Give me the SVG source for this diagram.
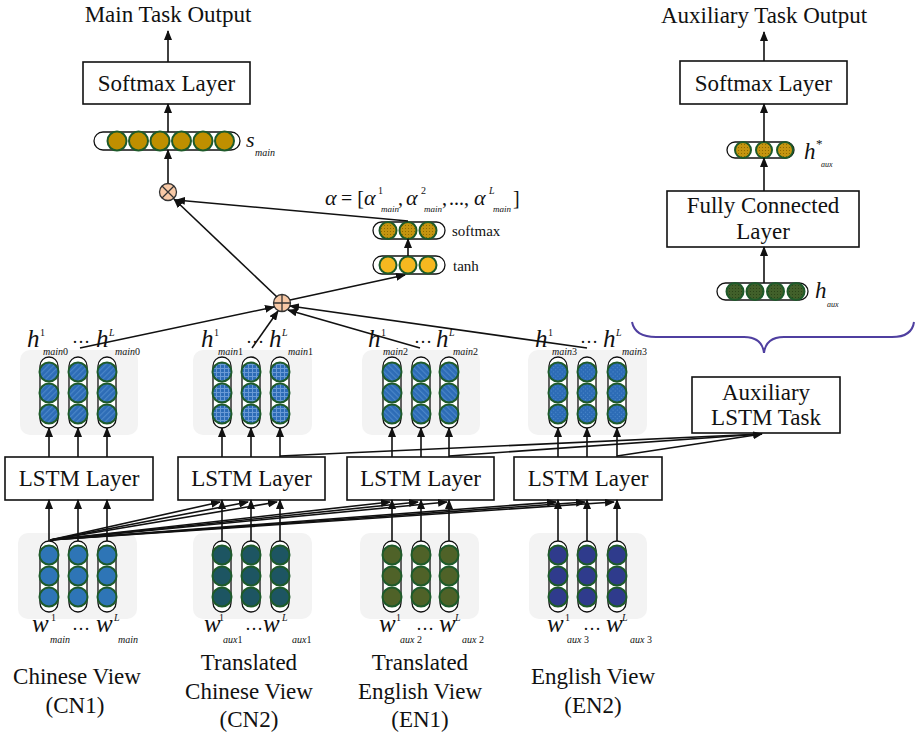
<svg xmlns="http://www.w3.org/2000/svg" width="917" height="733" viewBox="0 0 917 733">
<defs>
<style>
text{font-family:"Liberation Serif","Times New Roman",serif;fill:#111}
.t23{font-size:23px}
.mid{text-anchor:middle}
.big{font-size:25px;font-style:italic}
.sup{font-size:10px}
.supi{font-size:10px;font-style:italic}
.sub{font-size:10px;font-style:italic}
.asub{font-size:9px;font-style:italic}
.pun{font-size:20px}
.lab{font-size:15px}
.box{fill:#fff;stroke:#111;stroke-width:1.6}
.panel{fill:#f3f3f3;stroke:none}
.cap{fill:#fff;stroke:#111;stroke-width:1.3}
.ln{stroke:#111;stroke-width:1.6;fill:none}
.arr{stroke:#111;stroke-width:1.6;fill:none;marker-end:url(#ah)}
.c{stroke:#1e5a2a;stroke-width:2}
</style>
<marker id="ah" viewBox="0 0 10 8" refX="9" refY="4" markerWidth="10" markerHeight="8" markerUnits="userSpaceOnUse" orient="auto"><path d="M0,0 L10,4 L0,8 z" fill="#111"/></marker>
<pattern id="pDiag" width="4" height="4" patternUnits="userSpaceOnUse" patternTransform="rotate(45)"><rect width="4" height="4" fill="#2d6cb6"/><rect width="1.2" height="4" fill="#4a86c8"/></pattern>
<pattern id="pGrid" width="4" height="4" patternUnits="userSpaceOnUse"><rect width="4" height="4" fill="#2d6cb6"/><rect width="1" height="4" fill="#6a9ad6"/><rect width="4" height="1" fill="#6a9ad6"/></pattern>
<pattern id="pDiag2" width="4" height="4" patternUnits="userSpaceOnUse" patternTransform="rotate(-45)"><rect width="4" height="4" fill="#2d6cb6"/><rect width="1.2" height="4" fill="#4a86c8"/></pattern>
<pattern id="pCross" width="3" height="3" patternUnits="userSpaceOnUse" patternTransform="rotate(45)"><rect width="3" height="3" fill="#2d6cb6"/><rect width="1" height="1" fill="#4f8bcc"/></pattern>
<pattern id="pGold" width="3" height="3" patternUnits="userSpaceOnUse"><rect width="3" height="3" fill="#c49510"/><rect width="1" height="1" fill="#8f6a00"/></pattern>
<pattern id="pGreen" width="3" height="3" patternUnits="userSpaceOnUse"><rect width="3" height="3" fill="#41602a"/><rect width="1" height="1" fill="#2a4418"/></pattern>
</defs>

<g id="main-output">
<text class="t23 mid" x="168" y="22">Main Task Output</text>
</g>
<g id="main-softmax">
<rect class="box" x="83" y="62" width="167" height="42"/>
<text class="t23 mid" x="166.5" y="91">Softmax Layer</text>
</g>
<g id="s-main">
<rect class="cap" x="94" y="132" width="146" height="18" rx="9"/>
<circle class="c" cx="117" cy="141" r="9.5" fill="#bf8f00"/>
<circle class="c" cx="138.5" cy="141" r="9.5" fill="#bf8f00"/>
<circle class="c" cx="160" cy="141" r="9.5" fill="#bf8f00"/>
<circle class="c" cx="181.5" cy="141" r="9.5" fill="#bf8f00"/>
<circle class="c" cx="203" cy="141" r="9.5" fill="#bf8f00"/>
<circle class="c" cx="224.5" cy="141" r="9.5" fill="#bf8f00"/>
<text class="big" x="246" y="147" style="font-size:22px">s</text>
<text class="sub" x="255" y="156">main</text>
</g>
<g id="mult">
<circle cx="168" cy="192" r="8.5" fill="#f8c9a6" stroke="#333" stroke-width="1.3"/>
<path d="M162,186 L174,198 M174,186 L162,198" stroke="#333" stroke-width="1.3"/>
</g>
<g id="alpha">
<text class="big" x="325" y="205" style="font-size:22px">α</text>
<text class="pun" x="341" y="205">= [</text>
<text class="big" x="364" y="205" style="font-size:22px">α</text>
<text class="sup" x="378" y="194">1</text>
<text class="asub" x="381" y="212">main</text>
<text class="pun" x="398" y="205">,</text>
<text class="big" x="406" y="205" style="font-size:22px">α</text>
<text class="sup" x="421" y="194">2</text>
<text class="asub" x="424" y="212">main</text>
<text class="pun" x="442" y="205">,</text>
<text class="pun" x="449" y="205">...,</text>
<text class="big" x="474" y="205" style="font-size:22px">α</text>
<text class="supi" x="489" y="194">L</text>
<text class="asub" x="493" y="212">main</text>
<text class="pun" x="513" y="205">]</text>
</g>
<g id="softmax-att">
<rect class="cap" x="373" y="222" width="72" height="17" rx="8.5"/>
<circle class="c" cx="388" cy="230.5" r="8.5" fill="url(#pGold)"/>
<circle class="c" cx="408" cy="230.5" r="8.5" fill="url(#pGold)"/>
<circle class="c" cx="428" cy="230.5" r="8.5" fill="url(#pGold)"/>
<text class="lab" x="452" y="236">softmax</text>
</g>
<g id="tanh">
<rect class="cap" x="373" y="256" width="72" height="18" rx="9"/>
<circle class="c" cx="388" cy="265" r="8.5" fill="#f5b820"/>
<circle class="c" cx="408" cy="265" r="8.5" fill="#f5b820"/>
<circle class="c" cx="428" cy="265" r="8.5" fill="#f5b820"/>
<text class="lab" x="453" y="271">tanh</text>
</g>
<g id="add">
<circle cx="282" cy="303" r="8.5" fill="#f8c9a6" stroke="#333" stroke-width="1.3"/>
<path d="M273.5,303 L290.5,303 M282,294.5 L282,311.5" stroke="#333" stroke-width="1.3"/>
</g>

<g id="aux-output">
<text class="t23 mid" x="764" y="23">Auxiliary Task Output</text>
</g>
<g id="aux-softmax">
<rect class="box" x="680" y="61" width="167" height="43"/>
<text class="t23 mid" x="763.5" y="91">Softmax Layer</text>
</g>
<g id="h-star">
<rect class="cap" x="727" y="142" width="67" height="16" rx="8"/>
<circle class="c" cx="743" cy="150" r="8" fill="url(#pGold)"/>
<circle class="c" cx="764" cy="150" r="8" fill="url(#pGold)"/>
<circle class="c" cx="785" cy="150" r="8" fill="url(#pGold)"/>
<text class="big" x="804" y="159" style="font-size:23px">h</text>
<text class="sup" x="816" y="148" style="font-size:13px">*</text>
<text class="sub" x="821" y="167" style="font-size:8px">aux</text>
</g>
<g id="fc">
<rect class="box" x="667" y="191" width="192" height="56"/>
<text class="t23 mid" x="763" y="213">Fully Connected</text>
<text class="t23 mid" x="763" y="239">Layer</text>
</g>
<g id="h-aux">
<rect class="cap" x="717" y="283" width="91" height="17" rx="8.5"/>
<circle class="c" cx="735" cy="291.5" r="8.5" fill="url(#pGreen)"/>
<circle class="c" cx="755" cy="291.5" r="8.5" fill="url(#pGreen)"/>
<circle class="c" cx="775.5" cy="291.5" r="8.5" fill="url(#pGreen)"/>
<circle class="c" cx="796" cy="291.5" r="8.5" fill="url(#pGreen)"/>
<text class="big" x="815" y="298" style="font-size:23px">h</text>
<text class="sub" x="827" y="307" style="font-size:8px">aux</text>
</g>
<g id="brace">
<path d="M632,322 Q635,337 656,337 L744,337 Q762,337 764,353 Q766,337 784,337 L892,337 Q912,337 914,322" fill="none" stroke="#4f3fa0" stroke-width="2"/>
</g>

<g id="hidden-cn1">
<rect class="panel" x="20" y="350" width="118" height="85" rx="10"/>
<rect class="cap" x="40" y="357" width="18" height="71" rx="9"/><rect class="cap" x="69" y="357" width="18" height="71" rx="9"/><rect class="cap" x="98" y="357" width="18" height="71" rx="9"/>
<g fill="url(#pDiag)" class="c"><circle cx="49" cy="372" r="9.5"/><circle cx="49" cy="393" r="9.5"/><circle cx="49" cy="414" r="9.5"/><circle cx="78" cy="372" r="9.5"/><circle cx="78" cy="393" r="9.5"/><circle cx="78" cy="414" r="9.5"/><circle cx="107" cy="372" r="9.5"/><circle cx="107" cy="393" r="9.5"/><circle cx="107" cy="414" r="9.5"/></g>
<text class="big" x="27" y="347">h</text><text class="sup" x="40" y="336">1</text><text class="sub" x="43" y="355">main<tspan font-style="normal">0</tspan></text>
<text x="72" y="343" style="font-size:18px">…</text>
<text class="big" x="96" y="347">h</text><text class="supi" x="109" y="336">L</text><text class="sub" x="115" y="355">main<tspan font-style="normal">0</tspan></text>
</g>
<g id="hidden-cn2">
<rect class="panel" x="193" y="350" width="119" height="85" rx="10"/>
<rect class="cap" x="213" y="357" width="18" height="71" rx="9"/><rect class="cap" x="242" y="357" width="18" height="71" rx="9"/><rect class="cap" x="271" y="357" width="18" height="71" rx="9"/>
<g fill="url(#pGrid)" class="c"><circle cx="222" cy="372" r="9.5"/><circle cx="222" cy="393" r="9.5"/><circle cx="222" cy="414" r="9.5"/><circle cx="251" cy="372" r="9.5"/><circle cx="251" cy="393" r="9.5"/><circle cx="251" cy="414" r="9.5"/><circle cx="280" cy="372" r="9.5"/><circle cx="280" cy="393" r="9.5"/><circle cx="280" cy="414" r="9.5"/></g>
<text class="big" x="201" y="347">h</text><text class="sup" x="214" y="336">1</text><text class="sub" x="218" y="355">main<tspan font-style="normal">1</tspan></text>
<text x="246" y="343" style="font-size:18px">…</text>
<text class="big" x="269" y="347">h</text><text class="supi" x="282" y="336">L</text><text class="sub" x="288" y="355">main<tspan font-style="normal">1</tspan></text>
</g>
<g id="hidden-en1">
<rect class="panel" x="362" y="350" width="118" height="85" rx="10"/>
<rect class="cap" x="383" y="357" width="18" height="71" rx="9"/><rect class="cap" x="412" y="357" width="18" height="71" rx="9"/><rect class="cap" x="440" y="357" width="18" height="71" rx="9"/>
<g fill="url(#pDiag2)" class="c"><circle cx="392" cy="372" r="9.5"/><circle cx="392" cy="393" r="9.5"/><circle cx="392" cy="414" r="9.5"/><circle cx="421" cy="372" r="9.5"/><circle cx="421" cy="393" r="9.5"/><circle cx="421" cy="414" r="9.5"/><circle cx="449" cy="372" r="9.5"/><circle cx="449" cy="393" r="9.5"/><circle cx="449" cy="414" r="9.5"/></g>
<text class="big" x="368" y="347">h</text><text class="sup" x="381" y="336">1</text><text class="sub" x="383" y="355">main<tspan font-style="normal">2</tspan></text>
<text x="414" y="343" style="font-size:18px">…</text>
<text class="big" x="436" y="347">h</text><text class="supi" x="449" y="336">L</text><text class="sub" x="453" y="355">main<tspan font-style="normal">2</tspan></text>
</g>
<g id="hidden-en2">
<rect class="panel" x="528" y="350" width="119" height="85" rx="10"/>
<rect class="cap" x="549" y="357" width="18" height="71" rx="9"/><rect class="cap" x="578" y="357" width="18" height="71" rx="9"/><rect class="cap" x="608" y="357" width="18" height="71" rx="9"/>
<g fill="url(#pCross)" class="c"><circle cx="558" cy="372" r="9.5"/><circle cx="558" cy="393" r="9.5"/><circle cx="558" cy="414" r="9.5"/><circle cx="587" cy="372" r="9.5"/><circle cx="587" cy="393" r="9.5"/><circle cx="587" cy="414" r="9.5"/><circle cx="617" cy="372" r="9.5"/><circle cx="617" cy="393" r="9.5"/><circle cx="617" cy="414" r="9.5"/></g>
<text class="big" x="535" y="347">h</text><text class="sup" x="548" y="336">1</text><text class="sub" x="552" y="355">main<tspan font-style="normal">3</tspan></text>
<text x="580" y="343" style="font-size:18px">…</text>
<text class="big" x="603" y="347">h</text><text class="supi" x="616" y="336">L</text><text class="sub" x="622" y="355">main<tspan font-style="normal">3</tspan></text>
</g>

<g id="aux-lstm">
<rect class="box" x="692" y="377" width="148" height="56"/>
<text class="t23 mid" x="766" y="400">Auxiliary</text>
<text class="t23 mid" x="766" y="425">LSTM Task</text>
</g>

<g id="lstm1"><rect class="box" x="5" y="457" width="148" height="43"/><text class="t23 mid" x="79" y="486">LSTM Layer</text></g>
<g id="lstm2"><rect class="box" x="178" y="457" width="147" height="43"/><text class="t23 mid" x="251.5" y="486">LSTM Layer</text></g>
<g id="lstm3"><rect class="box" x="347" y="457" width="147" height="43"/><text class="t23 mid" x="420.5" y="486">LSTM Layer</text></g>
<g id="lstm4"><rect class="box" x="514" y="457" width="148" height="43"/><text class="t23 mid" x="588" y="486">LSTM Layer</text></g>

<g id="words-cn1">
<rect class="panel" x="18" y="533" width="119" height="86" rx="10"/>
<rect class="cap" x="40" y="541" width="18" height="71" rx="9"/><rect class="cap" x="69" y="541" width="18" height="71" rx="9"/><rect class="cap" x="98" y="541" width="18" height="71" rx="9"/>
<g fill="#2e75b6" class="c"><circle cx="49" cy="555" r="9.5"/><circle cx="49" cy="576" r="9.5"/><circle cx="49" cy="597" r="9.5"/><circle cx="78" cy="555" r="9.5"/><circle cx="78" cy="576" r="9.5"/><circle cx="78" cy="597" r="9.5"/><circle cx="107" cy="555" r="9.5"/><circle cx="107" cy="576" r="9.5"/><circle cx="107" cy="597" r="9.5"/></g>
<text class="big" x="32" y="632">w</text><text class="sup" x="51" y="621">1</text><text class="sub" x="50" y="643">main</text>
<text x="72" y="630" style="font-size:18px">…</text>
<text class="big" x="96" y="632">w</text><text class="supi" x="114" y="621">L</text><text class="sub" x="118" y="643">main</text>
</g>
<g id="words-cn2">
<rect class="panel" x="193" y="533" width="119" height="86" rx="10"/>
<rect class="cap" x="213" y="541" width="18" height="71" rx="9"/><rect class="cap" x="242" y="541" width="18" height="71" rx="9"/><rect class="cap" x="271" y="541" width="18" height="71" rx="9"/>
<g fill="#1d5562" class="c"><circle cx="222" cy="555" r="9.5"/><circle cx="222" cy="576" r="9.5"/><circle cx="222" cy="597" r="9.5"/><circle cx="251" cy="555" r="9.5"/><circle cx="251" cy="576" r="9.5"/><circle cx="251" cy="597" r="9.5"/><circle cx="280" cy="555" r="9.5"/><circle cx="280" cy="576" r="9.5"/><circle cx="280" cy="597" r="9.5"/></g>
<text class="big" x="204" y="632">w</text><text class="sup" x="219" y="621">1</text><text class="sub" x="223" y="643">aux<tspan font-style="normal">1</tspan></text>
<text x="245" y="630" style="font-size:18px">…</text>
<text class="big" x="263" y="632">w</text><text class="supi" x="282" y="621">L</text><text class="sub" x="292" y="643">aux<tspan font-style="normal">1</tspan></text>
</g>
<g id="words-en1">
<rect class="panel" x="360" y="533" width="119" height="86" rx="10"/>
<rect class="cap" x="383" y="541" width="18" height="71" rx="9"/><rect class="cap" x="412" y="541" width="18" height="71" rx="9"/><rect class="cap" x="440" y="541" width="18" height="71" rx="9"/>
<g fill="#4f6228" class="c"><circle cx="392" cy="555" r="9.5"/><circle cx="392" cy="576" r="9.5"/><circle cx="392" cy="597" r="9.5"/><circle cx="421" cy="555" r="9.5"/><circle cx="421" cy="576" r="9.5"/><circle cx="421" cy="597" r="9.5"/><circle cx="449" cy="555" r="9.5"/><circle cx="449" cy="576" r="9.5"/><circle cx="449" cy="597" r="9.5"/></g>
<text class="big" x="379" y="632">w</text><text class="sup" x="396" y="621">1</text><text class="sub" x="400" y="643">aux <tspan font-style="normal">2</tspan></text>
<text x="416" y="630" style="font-size:18px">…</text>
<text class="big" x="439" y="632">w</text><text class="supi" x="455" y="621">L</text><text class="sub" x="462" y="643">aux <tspan font-style="normal">2</tspan></text>
</g>
<g id="words-en2">
<rect class="panel" x="529" y="533" width="118" height="86" rx="10"/>
<rect class="cap" x="549" y="541" width="18" height="71" rx="9"/><rect class="cap" x="578" y="541" width="18" height="71" rx="9"/><rect class="cap" x="608" y="541" width="18" height="71" rx="9"/>
<g fill="#2f3b8c" class="c"><circle cx="558" cy="555" r="9.5"/><circle cx="558" cy="576" r="9.5"/><circle cx="558" cy="597" r="9.5"/><circle cx="587" cy="555" r="9.5"/><circle cx="587" cy="576" r="9.5"/><circle cx="587" cy="597" r="9.5"/><circle cx="617" cy="555" r="9.5"/><circle cx="617" cy="576" r="9.5"/><circle cx="617" cy="597" r="9.5"/></g>
<text class="big" x="547" y="632">w</text><text class="sup" x="565" y="621">1</text><text class="sub" x="567" y="643">aux <tspan font-style="normal">3</tspan></text>
<text x="583" y="630" style="font-size:18px">…</text>
<text class="big" x="606" y="632">w</text><text class="supi" x="622" y="621">L</text><text class="sub" x="630" y="643">aux <tspan font-style="normal">3</tspan></text>
</g>

<g id="view-labels">
<text class="t23 mid" x="77" y="684">Chinese View</text>
<text class="t23 mid" x="75" y="713">(CN1)</text>
<text class="t23 mid" x="249" y="670">Translated</text>
<text class="t23 mid" x="249" y="699">Chinese View</text>
<text class="t23 mid" x="249" y="727">(CN2)</text>
<text class="t23 mid" x="420" y="670">Translated</text>
<text class="t23 mid" x="420" y="699">English View</text>
<text class="t23 mid" x="420" y="727">(EN1)</text>
<text class="t23 mid" x="593" y="684">English View</text>
<text class="t23 mid" x="593" y="713">(EN2)</text>
</g>

<g id="connectors">
<line class="arr" x1="168" y1="62" x2="168" y2="31"/>
<line class="arr" x1="168" y1="132" x2="168" y2="104"/>
<line class="arr" x1="168" y1="183" x2="168" y2="150"/>
<line class="arr" x1="408" y1="221" x2="176" y2="200"/>
<line class="arr" x1="277" y1="297" x2="174" y2="199"/>
<line class="arr" x1="408" y1="256" x2="408" y2="239"/>
<line class="arr" x1="290" y1="300" x2="405" y2="275"/>
<line class="arr" x1="80" y1="348" x2="274" y2="307"/>
<line class="arr" x1="252" y1="348" x2="278" y2="311"/>
<line class="arr" x1="420" y1="348" x2="288" y2="310"/>
<line class="arr" x1="587" y1="348" x2="290" y2="306"/>
<line class="arr" x1="764" y1="61" x2="764" y2="32"/>
<line class="arr" x1="764" y1="142" x2="764" y2="104"/>
<line class="arr" x1="764" y1="191" x2="764" y2="158"/>
<line class="arr" x1="764" y1="283" x2="764" y2="247"/>
<line class="arr" x1="49" y1="457" x2="49" y2="428"/><line class="arr" x1="78" y1="457" x2="78" y2="428"/><line class="arr" x1="107" y1="457" x2="107" y2="428"/>
<line class="arr" x1="222" y1="457" x2="222" y2="428"/><line class="arr" x1="251" y1="457" x2="251" y2="428"/><line class="arr" x1="280" y1="457" x2="280" y2="428"/>
<line class="arr" x1="392" y1="457" x2="392" y2="428"/><line class="arr" x1="421" y1="457" x2="421" y2="428"/><line class="arr" x1="449" y1="457" x2="449" y2="428"/>
<line class="arr" x1="558" y1="457" x2="558" y2="428"/><line class="arr" x1="587" y1="457" x2="587" y2="428"/><line class="arr" x1="617" y1="457" x2="617" y2="428"/>
<line class="arr" x1="49" y1="541" x2="49" y2="500"/><line class="arr" x1="78" y1="541" x2="78" y2="500"/><line class="arr" x1="107" y1="541" x2="107" y2="500"/>
<line class="arr" x1="222" y1="541" x2="222" y2="500"/><line class="arr" x1="251" y1="541" x2="251" y2="500"/><line class="arr" x1="280" y1="541" x2="280" y2="500"/>
<line class="arr" x1="392" y1="541" x2="392" y2="500"/><line class="arr" x1="421" y1="541" x2="421" y2="500"/><line class="arr" x1="449" y1="541" x2="449" y2="500"/>
<line class="arr" x1="558" y1="541" x2="558" y2="500"/><line class="arr" x1="587" y1="541" x2="587" y2="500"/><line class="arr" x1="617" y1="541" x2="617" y2="500"/>
<line class="arr" x1="50" y1="540" x2="220" y2="502"/>
<line class="arr" x1="50" y1="540" x2="248" y2="502"/>
<line class="arr" x1="50" y1="540" x2="277" y2="502"/>
<line class="arr" x1="50" y1="540" x2="390" y2="502"/>
<line class="arr" x1="50" y1="540" x2="418" y2="502"/>
<line class="arr" x1="50" y1="540" x2="447" y2="502"/>
<line class="arr" x1="50" y1="540" x2="556" y2="502"/>
<line class="arr" x1="50" y1="540" x2="585" y2="502"/>
<line class="arr" x1="50" y1="540" x2="614" y2="502"/>
<line class="ln" x1="280" y1="456" x2="762" y2="434"/>
<line class="ln" x1="449" y1="456" x2="762" y2="434"/>
<line class="arr" x1="617" y1="456" x2="762" y2="434"/>
</g>
</svg>
